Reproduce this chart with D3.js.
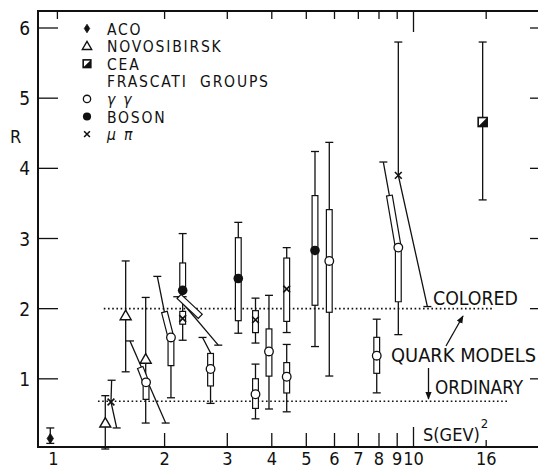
<!DOCTYPE html>
<html>
<head>
<meta charset="utf-8">
<script src="https://cdn.jsdelivr.net/npm/d3@7"></script>
<style>
  body { margin: 0; background: #fff; }
  text { font-family: "Liberation Sans Narrow", "DejaVu Sans Condensed", "Arial Narrow", sans-serif; fill: #111; }
</style>
</head>
<body>
<svg id="chart" width="538" height="470"></svg>
<script>
// tick values
const bottomTicks = [2, 3, 4, 5, 6, 7, 8, 9, 10, 16];
const bottomLabels = [1, 2, 3, 4, 5, 6, 7, 8, 9, 10, 16];
const topTicks = [1, 2, 3, 4, 5, 6, 7, 8, 9, 10, 16];
const rTicks = [1, 2, 3, 4, 5, 6];

// central values [s, R] per group
const acoPoints = [[0.955, 0.15]];
const novoPoints = [[1.363, 0.37], [1.555, 1.90], [1.770, 1.28]];
const ceaPoints = [[15.64, 4.66]];
const ggPoints = [[1.774, 0.95], [2.084, 1.59], [2.692, 1.14], [3.600, 0.78], [3.928, 1.39],
                  [4.405, 1.03], [5.801, 2.68], [7.884, 1.33], [9.065, 2.87]];
const bosonPoints = [[2.248, 2.26], [3.221, 2.43], [5.289, 2.83]];
const mupiPoints = [[1.414, 0.67], [2.248, 1.86], [3.600, 1.84], [4.405, 2.28], [9.065, 3.90]];

// error bars: polylines of [s, R], capped at both ends
const errorBars = [
  [[0.955, 0.30], [0.955, 0.08]],
  [[1.363, 0.76], [1.363, 0.0]],
  [[1.420, 0.98], [1.414, 0.67], [1.467, 0.30]],
  [[1.555, 2.68], [1.555, 1.10]],
  [[1.770, 2.16], [1.770, 0.37]],
  [[1.599, 1.54], [2.014, 0.37]],
  [[1.908, 2.46], [1.996, 1.96], [2.084, 1.59], [2.084, 0.73]],
  [[2.248, 3.07], [2.248, 2.26]],
  [[2.171, 2.17], [2.830, 1.48]],
  [[2.248, 2.17], [2.248, 1.55]],
  [[2.556, 1.59], [2.692, 1.37], [2.692, 0.65]],
  [[3.221, 3.23], [3.221, 1.65]],
  [[3.600, 2.15], [3.600, 1.51]],
  [[3.600, 1.21], [3.600, 0.43]],
  [[3.928, 2.19], [3.928, 0.57]],
  [[4.405, 2.87], [4.405, 1.66]],
  [[4.405, 1.49], [4.405, 0.53]],
  [[5.289, 4.24], [5.289, 1.46]],
  [[5.801, 4.37], [5.801, 1.04]],
  [[7.884, 1.85], [7.884, 0.80]],
  [[8.228, 4.09], [8.551, 3.62], [9.065, 2.87], [9.065, 1.63]],
  [[9.065, 5.80], [9.065, 3.90], [10.94, 2.03]],
  [[15.64, 5.80], [15.64, 3.55]]
];

// boxes (inner error ranges): polylines of [s, R]
const boxes = [
  [[1.706, 1.17], [1.774, 0.95], [1.774, 0.70]],
  [[1.996, 1.96], [2.084, 1.59], [2.084, 1.18]],
  [[2.248, 2.66], [2.248, 2.26]],
  [[2.19, 2.18], [2.526, 1.885]],
  [[2.248, 1.97], [2.248, 1.77]],
  [[2.692, 1.37], [2.692, 0.89]],
  [[3.221, 3.02], [3.221, 1.82]],
  [[3.600, 1.98], [3.600, 1.65]],
  [[3.600, 1.01], [3.600, 0.57]],
  [[3.928, 1.72], [3.928, 1.03]],
  [[4.405, 2.73], [4.405, 1.81]],
  [[4.405, 1.24], [4.405, 0.79]],
  [[5.289, 3.62], [5.289, 2.04]],
  [[5.801, 3.42], [5.801, 1.94]],
  [[7.884, 1.60], [7.884, 1.07]],
  [[8.551, 3.62], [9.065, 2.87], [9.065, 2.09]]
];

// quark model levels: [R, sFrom, sTo]
const coloredLine = [2.0, 1.35, 16.7];
const ordinaryLine = [0.68, 1.30, 18.6];

const legendNames = ["ACO", "NOVOSIBIRSK", "CEA", "FRASCATI  GROUPS", "γ γ", "BOSON", "μ π"];
const legendSymbols = ["aco", "tri", "cea", null, "gg", "boson", "mupi"];

const svg = d3.select("#chart");

const x = d3.scaleLog().domain([1, 10]).range([57.4, 413.5]);
const y = d3.scaleLinear().domain([0, 6]).range([449, 28]);

const frameLeft = 38, frameRight = 538, frameTop = 11, frameBottom = 447;

// frame
svg.append("path")
  .attr("d", `M${frameRight},${frameTop}H${frameLeft}V${frameBottom}H${frameRight}`)
  .attr("fill", "none").attr("stroke", "#111").attr("stroke-width", 2);

// top ticks
svg.selectAll(".ttick").data(topTicks).enter().append("line")
  .attr("x1", d => x(d)).attr("x2", d => x(d))
  .attr("y1", frameTop).attr("y2", d => frameTop + (d === 10 ? 21 : 8))
  .attr("stroke", "#111").attr("stroke-width", 1.3);

// bottom ticks
svg.selectAll(".btick").data(bottomTicks).enter().append("line")
  .attr("x1", d => x(d)).attr("x2", d => x(d))
  .attr("y1", frameBottom).attr("y2", d => frameBottom - (d === 10 ? 20 : d === 16 ? 7 : 14))
  .attr("stroke", "#111").attr("stroke-width", 1.3);

svg.selectAll(".blabel").data(bottomLabels).enter().append("text")
  .attr("x", d => x(d) - (d === 1 ? 4 : 0)).attr("y", 465)
  .attr("text-anchor", "middle").attr("font-size", 18)
  .text(d => d);

// left and right R ticks
svg.selectAll(".ltick").data(rTicks).enter().append("line")
  .attr("x1", frameLeft).attr("x2", frameLeft + 20)
  .attr("y1", d => y(d)).attr("y2", d => y(d))
  .attr("stroke", "#111").attr("stroke-width", 1.3);
svg.selectAll(".rtick").data(rTicks).enter().append("line")
  .attr("x1", frameRight - 8).attr("x2", frameRight)
  .attr("y1", d => y(d)).attr("y2", d => y(d))
  .attr("stroke", "#111").attr("stroke-width", 1.3);
svg.selectAll(".llabel").data(rTicks).enter().append("text")
  .attr("x", 30).attr("y", d => y(d) + 7)
  .attr("text-anchor", "end").attr("font-size", 19)
  .text(d => d);

svg.append("text").attr("x", 10).attr("y", 143).attr("font-size", 18).text("R");

// axis title
const xt = svg.append("text").attr("x", 423).attr("y", 441).attr("font-size", 18);
xt.append("tspan").text("S(GEV)");
xt.append("tspan").attr("font-size", 13).attr("dy", -13).attr("dx", 1).text("2");

// dotted quark model lines
[coloredLine, ordinaryLine].forEach(function(l) {
  svg.append("line")
    .attr("x1", x(l[1])).attr("x2", x(l[2]))
    .attr("y1", y(l[0])).attr("y2", y(l[0]))
    .attr("stroke", "#111").attr("stroke-width", 1.6)
    .attr("stroke-dasharray", "1.6,2.6");
});

svg.append("text").attr("x", 433).attr("y", 305).attr("font-size", 19)
  .attr("textLength", 85).attr("lengthAdjust", "spacingAndGlyphs").text("COLORED");
svg.append("text").attr("x", 391).attr("y", 362).attr("font-size", 19)
  .attr("textLength", 145).attr("lengthAdjust", "spacingAndGlyphs").text("QUARK MODELS");
svg.append("text").attr("x", 435).attr("y", 394).attr("font-size", 19)
  .attr("textLength", 88).attr("lengthAdjust", "spacingAndGlyphs").text("ORDINARY");

// arrows
svg.append("defs").append("marker")
  .attr("id", "ah").attr("viewBox", "0 0 10 10").attr("refX", 9).attr("refY", 5)
  .attr("markerWidth", 6).attr("markerHeight", 6).attr("orient", "auto")
  .append("path").attr("d", "M0,1L10,5L0,9Z").attr("fill", "#111");
svg.append("line").attr("x1", 446).attr("y1", 346).attr("x2", 463).attr("y2", 316)
  .attr("stroke", "#111").attr("stroke-width", 1.3).attr("marker-end", "url(#ah)");
svg.append("line").attr("x1", 428.5).attr("y1", 368).attr("x2", 428.5).attr("y2", 399)
  .attr("stroke", "#111").attr("stroke-width", 1.3).attr("marker-end", "url(#ah)");

// error bars
const line = d3.line().x(d => x(d[0])).y(d => y(d[1]));
const eg = svg.append("g");
errorBars.forEach(function(pts) {
  eg.append("path").attr("d", line(pts))
    .attr("fill", "none").attr("stroke", "#111").attr("stroke-width", 1.3);
  [pts[0], pts[pts.length - 1]].forEach(function(p) {
    eg.append("line")
      .attr("x1", x(p[0]) - 4).attr("x2", x(p[0]) + 4)
      .attr("y1", y(p[1])).attr("y2", y(p[1]))
      .attr("stroke", "#111").attr("stroke-width", 1.3);
  });
});

// boxes: outline drawn as a thick black stroke under a thinner white one
function shrink(px, d) {
  const out = px.map(p => p.slice());
  const n = out.length;
  function pull(a, b) {
    const dx = b[0] - a[0], dy = b[1] - a[1];
    const len = Math.hypot(dx, dy) || 1;
    a[0] += dx / len * d; a[1] += dy / len * d;
  }
  pull(out[0], px[1]);
  pull(out[n - 1], px[n - 2]);
  return out;
}
const bg = svg.append("g");
boxes.forEach(function(pts) {
  const px = shrink(pts.map(p => [x(p[0]), y(p[1])]), 3.5);
  const d = d3.line()(px);
  bg.append("path").attr("d", d).attr("fill", "none")
    .attr("stroke", "#111").attr("stroke-width", 7)
    .attr("stroke-linecap", "square").attr("stroke-linejoin", "miter");
  bg.append("path").attr("d", d).attr("fill", "none")
    .attr("stroke", "#fff").attr("stroke-width", 4.6)
    .attr("stroke-linecap", "square").attr("stroke-linejoin", "miter");
});

// symbols
function symbol(g, type, cx, cy, k) {
  if (type === "aco") {
    const w = 3.2 * k, h = 5 * k;
    g.append("path").attr("d", `M${cx},${cy - h}L${cx + w},${cy}L${cx},${cy + h}L${cx - w},${cy}Z`)
      .attr("fill", "#111").attr("stroke", "#111").attr("stroke-width", 0.8);
  } else if (type === "tri") {
    g.append("path")
      .attr("d", `M${cx},${cy - 5.5 * k}L${cx - 5.5 * k},${cy + 4 * k}L${cx + 5.5 * k},${cy + 4 * k}Z`)
      .attr("fill", "#fff").attr("stroke", "#111").attr("stroke-width", 1.4);
  } else if (type === "cea") {
    const h = 4.5 * k;
    g.append("rect").attr("x", cx - h).attr("y", cy - h).attr("width", 2 * h).attr("height", 2 * h)
      .attr("fill", "#fff").attr("stroke", "#111").attr("stroke-width", 1.6);
    g.append("path").attr("d", `M${cx - h},${cy + h}L${cx + h},${cy - h}L${cx + h},${cy + h}Z`).attr("fill", "#111");
  } else if (type === "gg") {
    g.append("circle").attr("cx", cx).attr("cy", cy).attr("r", 4.3 * k)
      .attr("fill", "#fff").attr("stroke", "#111").attr("stroke-width", 1.3);
  } else if (type === "boson") {
    g.append("circle").attr("cx", cx).attr("cy", cy).attr("r", 4.8 * k).attr("fill", "#111");
  } else if (type === "mupi") {
    const h = 3.4 * k;
    g.append("path").attr("d", `M${cx - h},${cy - h}L${cx + h},${cy + h}M${cx - h},${cy + h}L${cx + h},${cy - h}`)
      .attr("stroke", "#111").attr("stroke-width", 1.6);
  }
}

const mg = svg.append("g");
[["aco", acoPoints], ["tri", novoPoints], ["cea", ceaPoints], ["gg", ggPoints],
 ["boson", bosonPoints], ["mupi", mupiPoints]].forEach(function(grp) {
  grp[1].forEach(p => symbol(mg, grp[0], x(p[0]), y(p[1]), 1));
});

// legend
const lg = svg.append("g");
legendNames.forEach(function(name, i) {
  const base = 34.5 + i * 17.6;
  if (legendSymbols[i]) symbol(lg, legendSymbols[i], 87, base - 6, 0.85);
  const t = lg.append("text").attr("x", 107).attr("y", base).attr("font-size", 15.5)
    .attr("letter-spacing", 1.8).attr("xml:space", "preserve").text(name);
  if (name.indexOf("γ") >= 0 || name.indexOf("μ") >= 0) t.attr("font-style", "italic");
});
</script>
</body>
</html>
